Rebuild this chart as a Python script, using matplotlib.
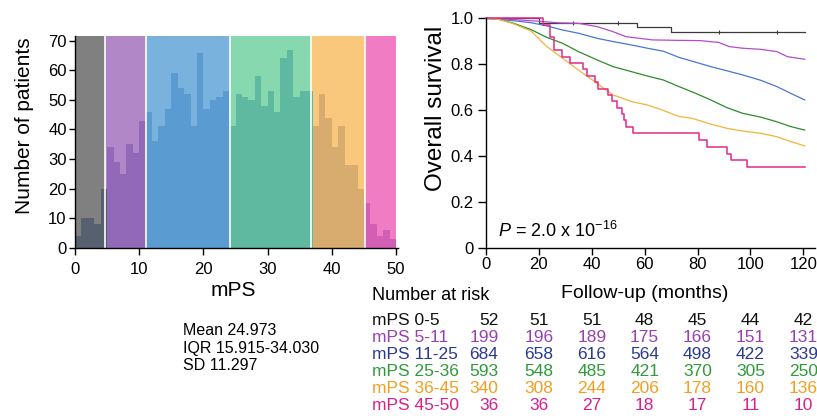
import numpy as np
import matplotlib
matplotlib.use('Agg')
import matplotlib.pyplot as plt
from matplotlib import transforms

plt.rcParams['font.family'] = ['Liberation Sans', 'DejaVu Sans']
plt.rcParams['mathtext.fontset'] = 'custom'
plt.rcParams['mathtext.rm'] = 'Liberation Sans'
plt.rcParams['mathtext.it'] = 'Liberation Sans:italic'

# ---- histogram data (mPS, bins of width 1) ----
hist_counts = [4, 10, 10, 8, 20,
               34, 29, 25, 35, 32, 43,
               46, 36, 41, 47, 59, 54, 52, 41, 66, 47, 50, 51, 53, 41,
               52, 51, 50, 58, 48, 53, 46, 64, 67, 51, 53,
               53, 41, 52, 44, 34, 41, 28, 28, 20,
               15, 8, 4, 6, 3]
span_edges = [0, 4.7, 11.0, 24.1, 36.8, 45.2, 50.0]
span_colors = ['#808080', '#b287c8', '#7ab2de', '#87d7af', '#fac87d', '#f07dc3']
bar_colors = ['#56606e', '#9169b8', '#5a9bd2', '#5fb9a0', '#d7ac6e', '#d25fb4']
stats_lines = ['Mean 24.973', 'IQR 15.915-34.030', 'SD 11.297']

# ---- Kaplan-Meier curves ----
groups = ['mPS 0-5', 'mPS 5-11', 'mPS 11-25', 'mPS 25-36', 'mPS 36-45', 'mPS 45-50']
curve_colors = ['#3a3a3a', '#b34ccb', '#4a74d6', '#2e8b2e', '#f0b43c', '#e0288c']
text_colors = ['#111111', '#9a3fb0', '#2b3a92', '#2f9a3a', '#f0a020', '#d8208a']

black_t = [0, 20, 57, 70, 120.5]
black_s = [1.0, 0.981, 0.962, 0.942, 0.942]
black_cens = [33, 50, 88, 110]
black_cens_s = [0.981, 0.981, 0.942, 0.942]
purple_t = [0, 10, 20, 28, 35, 42, 48, 53, 58, 63, 73, 81, 88, 92, 97, 104, 110, 114, 120.5]
purple_s = [1.0, 0.995, 0.987, 0.98, 0.978, 0.964, 0.942, 0.92, 0.913, 0.906, 0.904, 0.903,
            0.895, 0.877, 0.87, 0.865, 0.855, 0.833, 0.822]
blue_t = [0, 5, 10, 17, 23, 29, 35, 42, 48, 55, 61, 67, 73, 79, 85, 91, 97, 104, 110, 115, 120.5]
blue_s = [1.0, 0.995, 0.99, 0.981, 0.967, 0.949, 0.935, 0.913, 0.899, 0.884, 0.87, 0.857,
          0.83, 0.81, 0.79, 0.772, 0.754, 0.73, 0.703, 0.675, 0.645]
green_t = [0, 5, 10, 17, 23, 29, 35, 42, 48, 55, 61, 67, 73, 79, 85, 91, 97, 104, 110, 115, 120.5]
green_s = [1.0, 0.995, 0.98, 0.951, 0.917, 0.891, 0.855, 0.819, 0.79, 0.768, 0.749, 0.732,
           0.703, 0.675, 0.645, 0.612, 0.587, 0.57, 0.55, 0.53, 0.514]
orange_t = [0, 5, 10, 17, 23, 29, 35, 42, 48, 55, 61, 66, 73, 78, 85, 91, 97, 104, 110, 115, 120.5]
orange_s = [1.0, 0.995, 0.978, 0.945, 0.877, 0.826, 0.775, 0.717, 0.667, 0.638, 0.623, 0.604,
            0.573, 0.565, 0.54, 0.522, 0.51, 0.5, 0.485, 0.465, 0.445]
pink_t = [0, 21.4, 24.2, 25.7, 28.6, 31.7, 36.8, 38.1, 41.2, 42.5, 46.3, 47.5, 49.5, 51.3,
          52.0, 53.0, 55.7, 80.7, 83.5, 91.0, 92.7, 98.8, 120.5]
pink_s = [1.0, 0.972, 0.917, 0.861, 0.833, 0.806, 0.778, 0.75, 0.722, 0.694, 0.667, 0.639,
          0.611, 0.583, 0.556, 0.528, 0.5, 0.471, 0.441, 0.412, 0.382, 0.353, 0.353]

risk_times = [0, 20, 40, 60, 80, 100, 120]
at_risk = [[52, 51, 51, 48, 45, 44, 42],
           [199, 196, 189, 175, 166, 151, 131],
           [684, 658, 616, 564, 498, 422, 339],
           [593, 548, 485, 421, 370, 305, 250],
           [340, 308, 244, 206, 178, 160, 136],
           [36, 36, 27, 18, 17, 11, 10]]

W, H = 817, 416
fig = plt.figure(figsize=(W / 100, H / 100), dpi=100)

# ---------------- left: histogram ----------------
ax1 = fig.add_axes([75 / W, 1 - 247.7 / H, 323 / W, (247.7 - 36) / H])
for i in range(len(span_colors)):
    ax1.axvspan(span_edges[i], span_edges[i + 1], color=span_colors[i], lw=0, zorder=0)
centers = np.arange(len(hist_counts)) + 0.5
idx = np.clip(np.searchsorted(span_edges, centers) - 1, 0, len(bar_colors) - 1)
ax1.bar(np.arange(len(hist_counts)), hist_counts, width=1.0, align='edge',
        color=[bar_colors[k] for k in idx], lw=0, zorder=1)
for e in span_edges[1:-1]:
    ax1.axvline(e, color='white', lw=1.2, zorder=2)
ax1.set_xlim(0, 50.3)
ax1.set_ylim(0, 71.6)
ax1.set_xticks(range(0, 51, 10))
ax1.set_yticks(range(0, 71, 10))
for s in ['top', 'right']:
    ax1.spines[s].set_visible(False)
for s in ['left', 'bottom']:
    ax1.spines[s].set_linewidth(1.0)
ax1.tick_params(axis='x', length=5, width=1.0, pad=5, labelsize=12)
ax1.tick_params(axis='y', length=4, width=1.0, pad=2, labelsize=12)
fig.text(25 / W, 1 - 126 / H, 'Number of patients', rotation=90, ha='center', va='center', fontsize=15)
fig.text(233 / W, 1 - 290 / H, 'mPS', ha='center', va='center', fontsize=15)
for i, line in enumerate(stats_lines):
    fig.text(183 / W, 1 - (330.5 + 17.5 * i) / H, line, ha='left', va='center', fontsize=11.5)

# ---------------- right: survival ----------------
ax2 = fig.add_axes([486 / W, 1 - 248.3 / H, 329 / W, 230 / H])
ax2.plot(black_t, black_s, drawstyle='steps-post', color=curve_colors[0], lw=0.9, clip_on=False)
ax2.plot(black_cens, black_cens_s, ls='none', marker='|', ms=3, color=curve_colors[0], mew=0.8)
ax2.plot(purple_t, purple_s, color=curve_colors[1], lw=0.9, clip_on=False)
ax2.plot(blue_t, blue_s, color=curve_colors[2], lw=0.9, clip_on=False)
ax2.plot(green_t, green_s, color=curve_colors[3], lw=0.9, clip_on=False)
ax2.plot(orange_t, orange_s, color=curve_colors[4], lw=0.9, clip_on=False)
ax2.plot(pink_t, pink_s, drawstyle='steps-post', color=curve_colors[5], lw=1.1, clip_on=False)
ax2.set_xlim(0, 124.4)
ax2.set_ylim(0, 1.0)
ax2.set_xticks(risk_times)
ax2.set_yticks([0, 0.2, 0.4, 0.6, 0.8, 1.0])
ax2.set_yticklabels(['0', '0.2', '0.4', '0.6', '0.8', '1.0'])
for s in ['top', 'right']:
    ax2.spines[s].set_visible(False)
for s in ['left', 'bottom']:
    ax2.spines[s].set_linewidth(1.0)
ax2.tick_params(axis='x', length=5, width=1.0, pad=1, labelsize=12)
ax2.tick_params(axis='y', length=6, width=1.0, pad=3, labelsize=12)
ax2.text(4.5, 0.075, r'$P$ = 2.0 x 10$^{-16}$', ha='left', va='center', fontsize=13)
fig.text(436 / W, 1 - 108 / H, 'Overall survival', rotation=90, ha='center', va='center', fontsize=17.5)
fig.text(645 / W, 1 - 293 / H, 'Follow-up (months)', ha='center', va='center', fontsize=14)

# number at risk table
fig.text(372 / W, 1 - 295 / H, 'Number at risk', ha='left', va='center', fontsize=13)
trans = transforms.blended_transform_factory(ax2.transData, fig.transFigure)
for r, g in enumerate(groups):
    y = 1 - (320.5 + 16.9 * r) / H
    fig.text(372 / W, y, g, ha='left', va='center', fontsize=12.5, color=text_colors[r])
    for c, t in enumerate(risk_times):
        if c == 0:
            ax2.text(4.7, y, str(at_risk[r][c]), transform=trans, ha='right', va='center',
                     fontsize=12.5, color=text_colors[r])
        else:
            ax2.text(t, y, str(at_risk[r][c]), transform=trans, ha='center', va='center',
                     fontsize=12.5, color=text_colors[r])

fig.savefig('out.png', dpi=100)
